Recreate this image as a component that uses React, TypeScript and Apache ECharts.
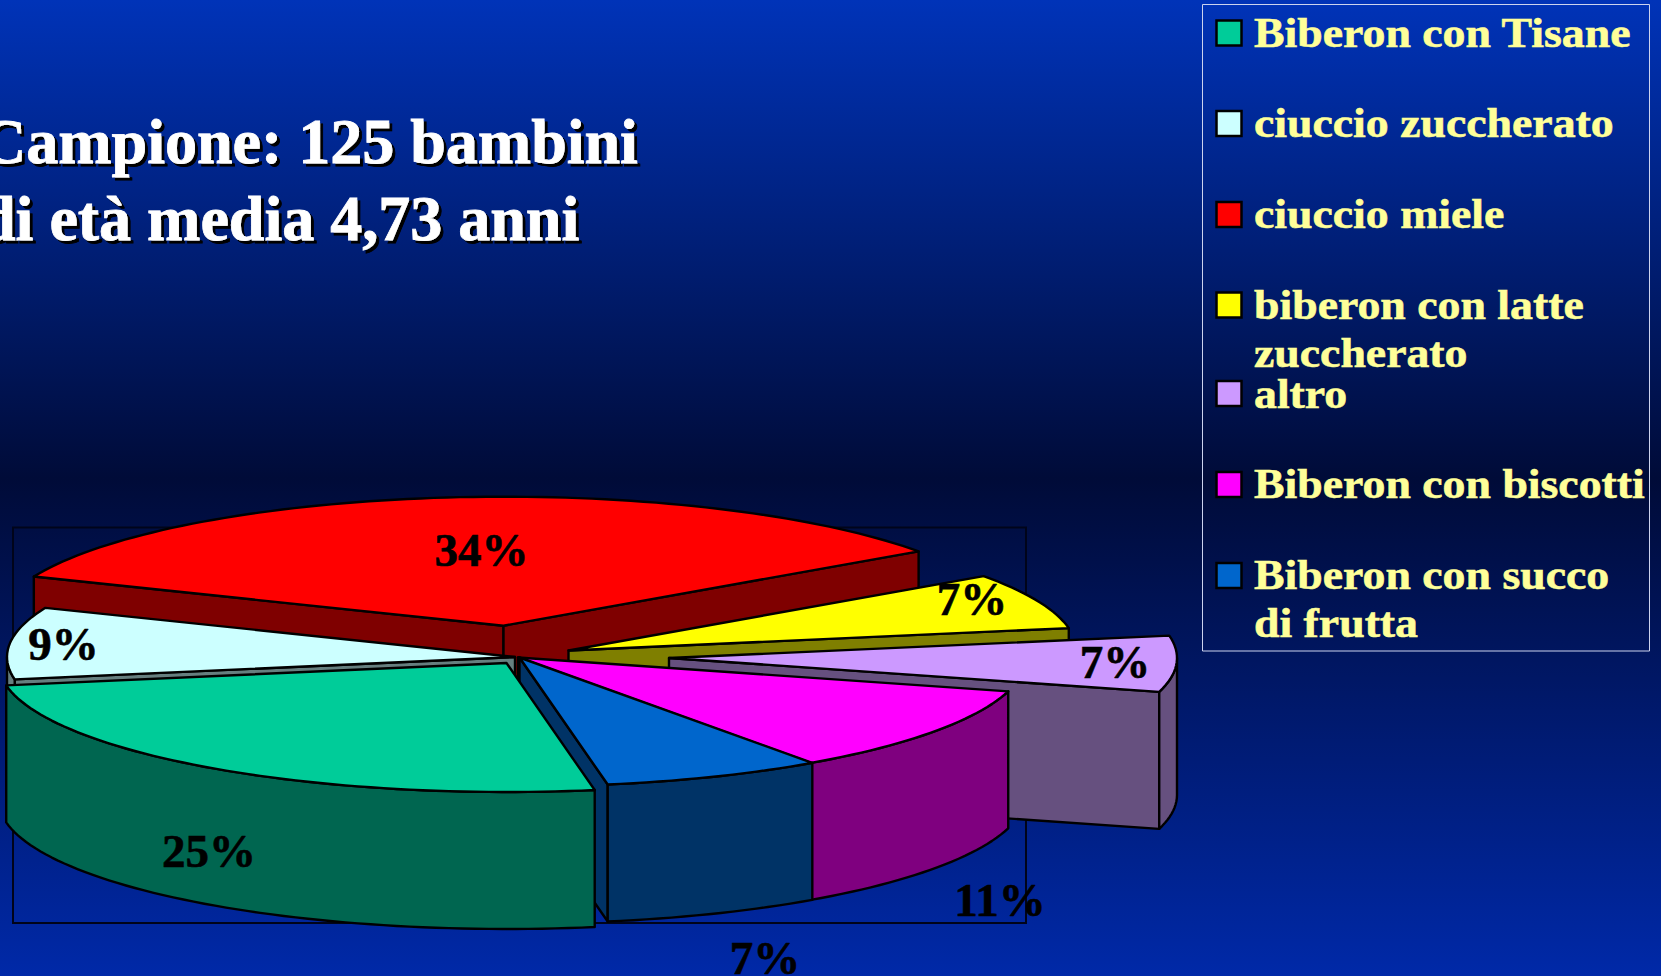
import React, { useEffect, useRef } from "react";
import * as echarts from "echarts";

// ---- data ----
const sliceNames = [
  "Biberon con Tisane",
  "ciuccio zuccherato",
  "ciuccio miele",
  "biberon con latte zuccherato",
  "altro",
  "Biberon con biscotti",
  "Biberon con succo di frutta",
];
const sliceValues = [25, 9, 34, 7, 7, 11, 7];
const legendLines = [
  ["Biberon con Tisane"],
  ["ciuccio zuccherato"],
  ["ciuccio miele"],
  ["biberon con latte", "zuccherato"],
  ["altro"],
  ["Biberon con biscotti"],
  ["Biberon con succo", "di frutta"],
];
const titleLines = ["Campione: 125 bambini", "di età media 4,73 anni"];

// ---- styles and layout ----
const topColors = ["#00CC99", "#CCFFFF", "#FF0000", "#FFFF00", "#CC99FF", "#FF00FF", "#0066CC"];
const sideColors = ["#006650", "#667F7F", "#7F0000", "#7F7F00", "#66507F", "#7F007F", "#003366"];
const apexX = [506.5, 515, 503.5, 568.5, 669, 518, 519.5];
const apexY = [663, 657, 625.7, 650.5, 658, 657.5, 657.5];
const labelX = [209, 63.5, 481.5, 972, 1115, 1000, 765];
const labelY = [851, 644, 550, 598.5, 662, 900, 958];
const drawOrder = [2, 3, 4, 1, 5, 6, 0];
const legendSwatchY = [33, 123.5, 214.5, 305, 393.5, 484.5, 575.5];
const legendBaselines = [[46.7], [137.5], [228.5], [319.5, 367.5], [408], [498.5], [589.5, 637.5]];
const START_ANGLE = 80;
const RX = 508;
const RY = 129;
const DEPTH = 137;
const PCT_FONT = 'bold 47px "Liberation Serif"';
const LEGEND_FONT = 'bold 42px "Liberation Serif"';
const TITLE_FONT = 'bold 64px "Liberation Serif"';

const total = sliceValues.reduce((a, b) => a + b, 0);
const sliceStart: number[] = [];
{
  let acc = START_ANGLE;
  for (const v of sliceValues) {
    sliceStart.push(acc);
    acc += (v / total) * 360;
  }
}
const rad = (d: number) => (d * Math.PI) / 180;

function rim(i: number, angle: number): number[] {
  return [apexX[i] + RX * Math.cos(rad(angle)), apexY[i] + RY * Math.sin(rad(angle))];
}

function renderSlice(params: any, api: any) {
  const i = drawOrder[params.dataIndex];
  const a0 = sliceStart[i];
  const a1 = a0 + (api.value(0) / total) * 360;
  const apex = [apexX[i], apexY[i]];
  const stroke = { stroke: "#000", lineWidth: 2.4, lineJoin: "round" };
  const side = { fill: sideColors[i], ...stroke };
  const children: any[] = [];
  const cutFace = (angle: number) => {
    const p = rim(i, angle);
    children.push({
      type: "polygon",
      shape: { points: [apex, p, [p[0], p[1] + DEPTH], [apex[0], apex[1] + DEPTH]] },
      style: side,
    });
  };
  if (Math.cos(rad(a0)) < 0) cutFace(a0);
  if (Math.cos(rad(a1)) > 0) cutFace(a1);

  for (const [lo, hi] of [[0, 180], [360, 540]]) {
    const s = Math.max(a0, lo);
    const e = Math.min(a1, hi);
    if (e <= s) continue;
    const upper: number[][] = [];
    const n = Math.ceil((e - s) / 1.5);
    for (let k = 0; k <= n; k++) upper.push(rim(i, s + ((e - s) * k) / n));
    const lower = upper.map((p) => [p[0], p[1] + DEPTH]).reverse();
    children.push({ type: "polygon", shape: { points: [...upper, ...lower] }, style: side });
  }

  const arc: number[][] = [apex];
  const n = Math.ceil((a1 - a0) / 1.5);
  for (let k = 0; k <= n; k++) arc.push(rim(i, a0 + ((a1 - a0) * k) / n));
  children.push({
    type: "polygon",
    shape: { points: arc },
    style: { fill: topColors[i], ...stroke },
  });
  children.push({
    type: "text",
    z2: 50,
    style: {
      text: `${Math.round((api.value(0) / total) * 100)}%`,
      x: labelX[i],
      y: labelY[i],
      font: PCT_FONT,
      fill: "#000",
      stroke: "#000",
      lineWidth: 0.6,
      align: "center",
      verticalAlign: "middle",
    },
  });
  return { type: "group", children };
}

function buildGraphic() {
  const els: any[] = [
    {
      type: "rect",
      z: -1,
      shape: { x: 13, y: 527.5, width: 1013, height: 395.5 },
      style: { fill: "transparent", stroke: "#00041a", lineWidth: 2 },
    },
    {
      type: "rect",
      z: 10,
      shape: { x: 1202.5, y: 4.5, width: 447, height: 646.5 },
      style: { fill: "transparent", stroke: "#ccd3ee", lineWidth: 1 },
    },
  ];
  titleLines.forEach((t, k) => {
    els.push({
      type: "text",
      z: 10,
      x: -20,
      y: [141, 218][k],
      style: {
        text: t,
        font: TITLE_FONT,
        fill: "#fff",
        stroke: "#fff",
        lineWidth: 0.8,
        textShadowColor: "#000",
        textShadowOffsetX: 3,
        textShadowOffsetY: 3,
        textShadowBlur: 0.6,
        verticalAlign: "middle",
      },
    });
  });
  legendLines.forEach((lines, i) => {
    els.push({
      type: "rect",
      z: 10,
      shape: { x: 1216.5, y: legendSwatchY[i] - 12.5, width: 25, height: 25 },
      style: { fill: topColors[i], stroke: "#000", lineWidth: 2.5 },
    });
    lines.forEach((t, k) => {
      els.push({
        type: "text",
        z: 10,
        x: 1254,
        y: legendBaselines[i][k] - 14,
        scaleX: 1.09,
        style: {
          text: t,
          font: LEGEND_FONT,
          fill: "#FFFF99",
          stroke: "#FFFF99",
          lineWidth: 0.6,
          verticalAlign: "middle",
        },
      });
    });
  });
  return els;
}

export default function App() {
  const ref = useRef<HTMLDivElement>(null);
  useEffect(() => {
    document.body.style.margin = "0";
    document.body.style.overflow = "hidden";
    const chart = echarts.init(ref.current!, undefined, { renderer: "svg" });
    chart.setOption({
      animation: false,
      backgroundColor: {
        type: "linear",
        x: 0,
        y: 0,
        x2: 0,
        y2: 1,
        colorStops: [
          { offset: 0, color: "#0033B8" },
          { offset: 0.49, color: "#000B38" },
          { offset: 1, color: "#0029A8" },
        ],
      },
      graphic: { elements: buildGraphic() },
      series: [
        {
          type: "custom",
          coordinateSystem: "none",
          silent: true,
          renderItem: renderSlice,
          data: drawOrder.map((i) => ({ name: sliceNames[i], value: [sliceValues[i]] })),
        },
      ],
    });
    return () => chart.dispose();
  }, []);
  return <div ref={ref} style={{ width: 1661, height: 976, position: "fixed", left: 0, top: 0 }} />;
}
